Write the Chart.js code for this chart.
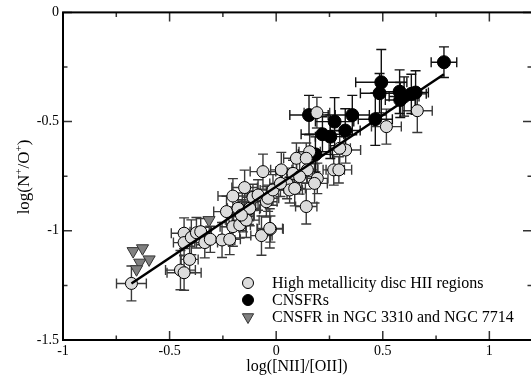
<!DOCTYPE html>
<html>
<head>
<meta charset="utf-8">
<script src="https://cdn.jsdelivr.net/npm/chart.js@4/dist/chart.umd.min.js"></script>
<style>
  html, body { margin: 0; padding: 0; background: #fff; overflow: hidden; }
  #wrap { width: 531px; height: 377px; overflow: hidden; position: relative; }
</style>
</head>
<body>
<div id="wrap"><canvas id="chart" width="540" height="377"></canvas></div>
<script>
// axis ticks
const xTicks = [-1, -0.5, 0, 0.5, 1];
const yTicks = [-1.5, -1, -0.5, 0];
const xMinor = [-0.75, -0.25, 0.25, 0.75];
const yMinor = [-1.25, -0.75, -0.25];

// High metallicity disc HII regions
const discX = [-0.679, -0.432, -0.432, -0.398, -0.374, -0.354, -0.406, -0.449, -0.432, -0.335,
  -0.309, -0.254, -0.218, -0.233, -0.203, -0.179, -0.203, -0.171, -0.156, -0.148,
  -0.128, -0.140, -0.109, -0.085, -0.062, -0.069, -0.027, -0.046, -0.038, -0.015,
  0.024, 0.051, 0.063, 0.087, 0.095, 0.079, 0.191, 0.157, 0.326, 0.298,
  0.270, 0.294, 0.141, 0.146, 0.110, 0.193, 0.180, 0.020, -0.124, -0.163,
  -0.030, 0.141, 0.662, 0.517];
const discY = [-1.241, -1.011, -1.054, -1.030, -1.009, -1.004, -1.131, -1.180, -1.192, -1.054,
  -1.039, -1.042, -1.039, -0.912, -0.841, -0.897, -0.981, -0.973, -0.935, -0.802,
  -0.901, -0.951, -0.847, -0.836, -0.729, -1.022, -0.992, -0.867, -0.851, -0.813,
  -0.721, -0.783, -0.813, -0.806, -0.668, -0.737, -0.459, -0.638, -0.630, -0.622,
  -0.721, -0.721, -0.668, -0.721, -0.752, -0.760, -0.783, -0.783, -0.897, -0.928,
  -0.989, -0.889, -0.450, -0.523];
const discXErr = [0.07, 0.06, 0.05, 0.05, 0.06, 0.05, 0.04, 0.07, 0.08, 0.06,
  0.05, 0.06, 0.05, 0.06, 0.07, 0.05, 0.06, 0.05, 0.05, 0.06,
  0.05, 0.06, 0.05, 0.05, 0.06, 0.05, 0.06, 0.05, 0.05, 0.06,
  0.05, 0.05, 0.06, 0.05, 0.06, 0.05, 0.06, 0.05, 0.07, 0.05,
  0.05, 0.06, 0.05, 0.05, 0.06, 0.05, 0.06, 0.05, 0.05, 0.06,
  0.06, 0.05, 0.07, 0.07];
const discYErr = [0.08, 0.07, 0.06, 0.08, 0.07, 0.06, 0.06, 0.09, 0.08, 0.07,
  0.06, 0.08, 0.07, 0.07, 0.08, 0.07, 0.09, 0.06, 0.07, 0.08,
  0.07, 0.08, 0.06, 0.07, 0.08, 0.09, 0.06, 0.07, 0.06, 0.07,
  0.08, 0.07, 0.06, 0.08, 0.07, 0.06, 0.07, 0.08, 0.06, 0.08,
  0.07, 0.06, 0.07, 0.06, 0.08, 0.07, 0.09, 0.06, 0.08, 0.07,
  0.09, 0.08, 0.10, 0.08];

// CNSFRs
const cnsfrX = [0.787, 0.493, 0.485, 0.579, 0.582, 0.634, 0.654, 0.357, 0.274, 0.324,
  0.465, 0.154, 0.217, 0.254, 0.184, 0.600];
const cnsfrY = [-0.228, -0.320, -0.370, -0.363, -0.401, -0.373, -0.367, -0.470, -0.500, -0.541,
  -0.489, -0.470, -0.558, -0.569, -0.650, -0.385];
const cnsfrXErr = [0.06, 0.12, 0.09, 0.08, 0.07, 0.07, 0.06, 0.08, 0.09, 0.07,
  0.08, 0.09, 0.10, 0.07, 0.08, 0.07];
const cnsfrYErr = [0.07, 0.15, 0.09, 0.10, 0.08, 0.09, 0.10, 0.09, 0.11, 0.10,
  0.12, 0.09, 0.08, 0.10, 0.08, 0.09];

// CNSFR in NGC 3310 and NGC 7714
const ngcX = [-0.671, -0.627, -0.596, -0.640, -0.655, -0.315];
const ngcY = [-1.093, -1.080, -1.131, -1.146, -1.176, -0.951];

// linear fit end points
const fitX = [-0.679, 0.787];
const fitY = [-1.241, -0.283];

const serif = '"Liberation Serif", "DejaVu Serif", serif';

const toPts = (xs, ys) => xs.map((x, i) => ({ x: x, y: ys[i] }));

// error bars drawn behind markers
const errorBars = {
  id: 'errorBars',
  beforeDatasetsDraw(chart) {
    const { ctx, chartArea, scales: { x, y } } = chart;
    ctx.save();
    ctx.beginPath();
    ctx.rect(chartArea.left, chartArea.top, chartArea.right - chartArea.left, chartArea.bottom - chartArea.top);
    ctx.clip();
    chart.data.datasets.forEach(ds => {
      if (!ds.xErr) return;
      ctx.strokeStyle = ds.errColor;
      ctx.lineWidth = 1.4;
      const cap = 5;
      ds.data.forEach((p, i) => {
        const px = x.getPixelForValue(p.x), py = y.getPixelForValue(p.y);
        const x0 = x.getPixelForValue(p.x - ds.xErr[i]), x1 = x.getPixelForValue(p.x + ds.xErr[i]);
        const y0 = y.getPixelForValue(p.y - ds.yErr[i]), y1 = y.getPixelForValue(p.y + ds.yErr[i]);
        ctx.beginPath();
        ctx.moveTo(x0, py); ctx.lineTo(x1, py);
        ctx.moveTo(x0, py - cap); ctx.lineTo(x0, py + cap);
        ctx.moveTo(x1, py - cap); ctx.lineTo(x1, py + cap);
        ctx.moveTo(px, y0); ctx.lineTo(px, y1);
        ctx.moveTo(px - cap, y0); ctx.lineTo(px + cap, y0);
        ctx.moveTo(px - cap, y1); ctx.lineTo(px + cap, y1);
        ctx.stroke();
      });
    });
    ctx.restore();
  }
};

// frame, inward ticks, titles and legend
const decorations = {
  id: 'decorations',
  afterDraw(chart) {
    const { ctx, chartArea: a, scales: { x, y } } = chart;
    ctx.save();
    ctx.strokeStyle = '#333';
    ctx.lineWidth = 1.5;
    ctx.beginPath();
    xTicks.forEach(v => {
      const px = x.getPixelForValue(v);
      ctx.moveTo(px, a.bottom); ctx.lineTo(px, a.bottom - 9);
      ctx.moveTo(px, a.top); ctx.lineTo(px, a.top + 9);
    });
    xMinor.forEach(v => {
      const px = x.getPixelForValue(v);
      ctx.moveTo(px, a.bottom); ctx.lineTo(px, a.bottom - 4.5);
      ctx.moveTo(px, a.top); ctx.lineTo(px, a.top + 4.5);
    });
    yTicks.forEach(v => {
      const py = y.getPixelForValue(v);
      ctx.moveTo(a.left, py); ctx.lineTo(a.left + 9, py);
      ctx.moveTo(a.right, py); ctx.lineTo(a.right - 9, py);
    });
    yMinor.forEach(v => {
      const py = y.getPixelForValue(v);
      ctx.moveTo(a.left, py); ctx.lineTo(a.left + 4.5, py);
      ctx.moveTo(a.right, py); ctx.lineTo(a.right - 4.5, py);
    });
    ctx.stroke();

    ctx.strokeStyle = '#000';
    ctx.lineWidth = 2;
    ctx.strokeRect(a.left, a.top, a.right - a.left, a.bottom - a.top);

    // x title
    ctx.fillStyle = '#000';
    ctx.font = '16px ' + serif;
    ctx.textAlign = 'center';
    ctx.textBaseline = 'middle';
    ctx.fillText('log([NII]/[OII])', 297, 367);

    // y title with superscripts
    const parts = [['log(N', false], ['+', true], ['/O', false], ['+', true], [')', false]];
    const big = '17px ' + serif, small = '11px ' + serif;
    let total = 0;
    parts.forEach(([t, sup]) => { ctx.font = sup ? small : big; total += ctx.measureText(t).width; });
    ctx.translate(25, 177);
    ctx.rotate(-Math.PI / 2);
    ctx.textAlign = 'left';
    let cx = -total / 2;
    parts.forEach(([t, sup]) => {
      ctx.font = sup ? small : big;
      ctx.fillText(t, cx, sup ? -6 : 0);
      cx += ctx.measureText(t).width;
    });
    ctx.setTransform(1, 0, 0, 1, 0, 0);

    // legend
    const rows = [
      { label: 'High metallicity disc HII regions', ds: 1, y: 283 },
      { label: 'CNSFRs', ds: 2, y: 300 },
      { label: 'CNSFR in NGC 3310 and NGC 7714', ds: 3, y: 317 }
    ];
    ctx.font = '16px ' + serif;
    ctx.textAlign = 'left';
    rows.forEach(r => {
      const d = chart.data.datasets[r.ds];
      ctx.fillStyle = d.backgroundColor;
      ctx.strokeStyle = d.borderColor;
      ctx.lineWidth = 1;
      Chart.helpers.drawPoint(ctx, {
        pointStyle: d.pointStyle || 'circle',
        radius: r.ds === 3 ? 6.5 : 5.5,
        rotation: d.rotation || 0,
        borderWidth: 1
      }, 248, r.y);
      ctx.fillStyle = '#000';
      ctx.fillText(r.label, 272, r.y + 1);
    });
    ctx.restore();
  }
};

new Chart(document.getElementById('chart'), {
  type: 'scatter',
  data: {
    datasets: [
      {
        type: 'line',
        label: 'fit',
        data: toPts(fitX, fitY),
        borderColor: '#000',
        borderWidth: 2.5,
        pointRadius: 0,
        fill: false
      },
      {
        label: 'High metallicity disc HII regions',
        data: toPts(discX, discY),
        xErr: discXErr,
        yErr: discYErr,
        errColor: '#3a3a3a',
        backgroundColor: '#dcdcdc',
        borderColor: '#000',
        borderWidth: 1,
        pointRadius: 6
      },
      {
        label: 'CNSFRs',
        data: toPts(cnsfrX, cnsfrY),
        xErr: cnsfrXErr,
        yErr: cnsfrYErr,
        errColor: '#111',
        backgroundColor: '#000',
        borderColor: '#000',
        borderWidth: 1,
        pointRadius: 6.5
      },
      {
        label: 'CNSFR in NGC 3310 and NGC 7714',
        data: toPts(ngcX, ngcY),
        backgroundColor: '#808080',
        borderColor: '#333',
        borderWidth: 1,
        pointStyle: 'triangle',
        rotation: 180,
        pointRadius: 7
      }
    ]
  },
  options: {
    responsive: false,
    animation: false,
    devicePixelRatio: 1,
    layout: { padding: { top: 12, right: 8, left: 0, bottom: 0 } },
    plugins: { legend: { display: false }, tooltip: { enabled: false } },
    scales: {
      x: {
        type: 'linear',
        min: -1,
        max: 1.2,
        afterBuildTicks: s => { s.ticks = xTicks.map(v => ({ value: v })); },
        afterFit: s => { s.height = 37; },
        grid: { display: false, drawTicks: false },
        border: { display: false },
        ticks: {
          color: '#000',
          font: { family: serif, size: 14 },
          padding: 3,
          maxRotation: 0,
          autoSkip: false,
          callback: v => String(v)
        }
      },
      y: {
        type: 'linear',
        min: -1.5,
        max: 0,
        afterBuildTicks: s => { s.ticks = yTicks.map(v => ({ value: v })); },
        afterFit: s => { s.width = 63; },
        grid: { display: false, drawTicks: false },
        border: { display: false },
        ticks: {
          color: '#000',
          font: { family: serif, size: 14 },
          padding: 4,
          autoSkip: false,
          callback: v => String(v)
        }
      }
    }
  },
  plugins: [errorBars, decorations]
});
</script>
</body>
</html>
